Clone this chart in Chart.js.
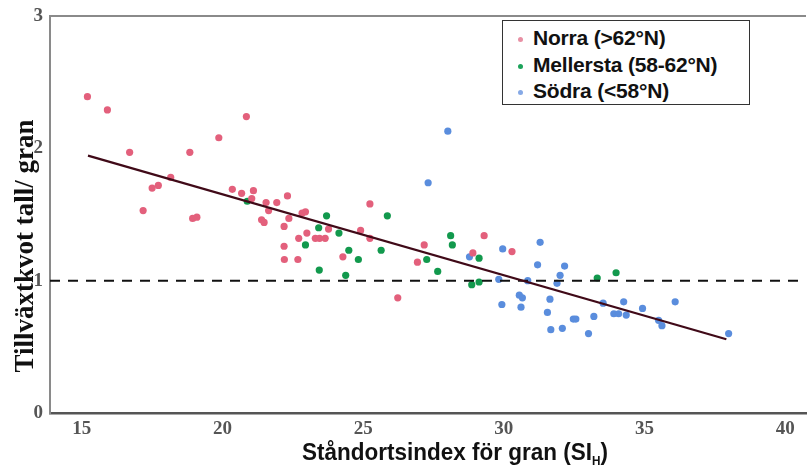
<!DOCTYPE html>
<html>
<head>
<meta charset="utf-8">
<script src="https://cdn.jsdelivr.net/npm/chart.js@4.4.1/dist/chart.umd.min.js"></script>
<style>
  html, body { margin: 0; padding: 0; background: #fff; }
  #wrap { position: relative; width: 810px; height: 468px; }
  #legend {
    position: absolute; left: 502px; top: 20px; width: 248px; height: 85px;
    border: 1.5px solid #333; background: #fff; box-sizing: border-box;
    font-family: 'Liberation Sans', Arial, sans-serif; font-weight: bold; font-size: 21px; color: #111;
    padding-top: 4px;
  }
  #legend .item { position: relative; height: 26.5px; line-height: 26px; padding-left: 30px; letter-spacing: -0.2px; }
  #legend .dot { position: absolute; left: 15px; top: 12px; width: 5px; height: 5px; border-radius: 50%; }
</style>
</head>
<body>
<div id="wrap">
  <canvas id="chart" width="810" height="468"></canvas>
  <div id="legend"></div>
</div>
<script>
// Series labels
const seriesLabels = ['Norra (>62°N)', 'Mellersta (58-62°N)', 'Södra (<58°N)'];

// Norra points
const norraX = [15.20, 15.91, 20.85, 19.87, 16.70, 18.84, 18.16, 17.72, 17.50, 20.35, 20.68, 17.18, 18.94, 19.09,
  21.10, 21.04, 21.55, 21.93, 21.64, 22.31, 21.39, 21.48, 22.36, 22.19, 22.83, 22.95, 23.77, 23.00, 22.71,
  23.30, 23.45, 23.65, 22.19, 22.20, 22.68, 24.28, 25.24, 24.91, 25.24, 27.17, 26.93, 26.23, 29.30, 28.90, 30.29];
const norraY = [2.39, 2.29, 2.24, 2.08, 1.97, 1.97, 1.78, 1.72, 1.70, 1.69, 1.66, 1.53, 1.47, 1.48,
  1.68, 1.62, 1.59, 1.59, 1.53, 1.64, 1.46, 1.44, 1.47, 1.41, 1.51, 1.52, 1.39, 1.36, 1.32,
  1.32, 1.32, 1.32, 1.26, 1.16, 1.16, 1.18, 1.58, 1.38, 1.32, 1.27, 1.14, 0.87, 1.34, 1.21, 1.22];

// Mellersta points
const mellerstaX = [20.88, 23.70, 23.42, 24.14, 22.95, 24.49, 24.83, 23.44, 24.38, 25.86, 25.64, 27.26, 27.65,
  28.11, 28.17, 29.12, 28.86, 29.12, 33.32, 33.99];
const mellerstaY = [1.60, 1.49, 1.40, 1.36, 1.27, 1.23, 1.16, 1.08, 1.04, 1.49, 1.23, 1.16, 1.07,
  1.34, 1.27, 1.17, 0.97, 0.99, 1.02, 1.06];

// Södra points
const sodraX = [28.01, 27.31, 28.78, 29.82, 29.96, 29.93, 31.29, 30.85, 31.20, 32.16, 32.00, 31.89, 30.55, 30.66,
  30.61, 31.64, 31.55, 33.53, 34.26, 33.91, 34.08, 34.35, 33.20, 32.47, 32.56, 31.67, 32.08, 33.01,
  34.93, 36.09, 35.50, 35.62, 37.99];
const sodraY = [2.13, 1.74, 1.18, 1.01, 1.24, 0.82, 1.29, 1.00, 1.12, 1.11, 1.04, 0.98, 0.89, 0.87,
  0.80, 0.86, 0.76, 0.83, 0.84, 0.75, 0.75, 0.74, 0.73, 0.71, 0.71, 0.63, 0.64, 0.60,
  0.79, 0.84, 0.70, 0.66, 0.60];

// Fitted line and reference level
const fitX = [15.22, 37.91];
const fitY = [1.945, 0.557];
const refLevel = 1;

// Axes
const xMin = 13.87, xMax = 40.74;
const xTicks = [15, 20, 25, 30, 35, 40];
const yTicks = [0, 1, 2, 3];

const seriesColors = ['#e3607c', '#12994d', '#5a8ddd'];
const legendColors = ['#e890a4', '#1ca35a', '#86a9e6'];

const toPts = (xs, ys) => xs.map((x, i) => ({ x: x, y: ys[i] }));

// legend
const legendEl = document.getElementById('legend');
seriesLabels.forEach((lab, i) => {
  const item = document.createElement('div');
  item.className = 'item';
  item.innerHTML = '<span class="dot" style="background:' + legendColors[i] + '"></span>' + lab;
  legendEl.appendChild(item);
});

const framePlugin = {
  id: 'frame',
  afterDraw(chart) {
    const ctx = chart.ctx;
    const a = chart.chartArea;
    ctx.save();
    // top frame line
    ctx.strokeStyle = '#8a8a8a';
    ctx.lineWidth = 2;
    ctx.beginPath();
    ctx.moveTo(a.left, a.top);
    ctx.lineTo(a.right, a.top);
    ctx.stroke();
    // y title
    ctx.fillStyle = '#111';
    ctx.font = 'bold 27px "Liberation Serif", "DejaVu Serif", serif';
    ctx.textAlign = 'center';
    ctx.textBaseline = 'middle';
    ctx.translate(26, 246);
    ctx.rotate(-Math.PI / 2);
    ctx.fillText('Tillväxtkvot tall/ gran', 0, 0);
    ctx.restore();

    // x title with subscript, squeezed to the reference width
    ctx.save();
    ctx.fillStyle = '#111';
    ctx.textBaseline = 'alphabetic';
    ctx.textAlign = 'left';
    const big = 'bold 23px "Liberation Sans", sans-serif';
    const small = 'bold 12px "Liberation Sans", sans-serif';
    const main = 'Ståndortsindex för gran (SI';
    ctx.font = big;
    const w1 = ctx.measureText(main).width;
    const w3 = ctx.measureText(')').width;
    ctx.font = small;
    const w2 = ctx.measureText('H').width;
    const total = w1 + w2 + w3;
    const target = 306;
    const sx = target / total;
    ctx.translate(455 - target / 2, 460);
    ctx.scale(sx, 1);
    ctx.font = big;
    ctx.fillText(main, 0, 0);
    ctx.font = small;
    ctx.fillText('H', w1, 5);
    ctx.font = big;
    ctx.fillText(')', w1 + w2, 0);
    ctx.restore();
  }
};

const tickFont = { family: '"Liberation Serif", "DejaVu Serif", serif', size: 19, weight: 'bold' };

new Chart(document.getElementById('chart').getContext('2d'), {
  type: 'scatter',
  data: {
    datasets: [
      {
        label: seriesLabels[0], data: toPts(norraX, norraY),
        backgroundColor: seriesColors[0], borderWidth: 0, pointRadius: 3.6, order: 3
      },
      {
        label: seriesLabels[1], data: toPts(mellerstaX, mellerstaY),
        backgroundColor: seriesColors[1], borderWidth: 0, pointRadius: 3.6, order: 3
      },
      {
        label: seriesLabels[2], data: toPts(sodraX, sodraY),
        backgroundColor: seriesColors[2], borderWidth: 0, pointRadius: 3.6, order: 3
      },
      {
        type: 'line', label: 'fit', data: toPts(fitX, fitY),
        borderColor: '#400a18', borderWidth: 2.2, pointRadius: 0, fill: false, order: 1
      },
      {
        type: 'line', label: 'ref', data: toPts([xMin, xMax], [refLevel, refLevel]),
        borderColor: '#111', borderWidth: 2, borderDash: [10, 8], pointRadius: 0, fill: false, order: 2
      }
    ]
  },
  options: {
    responsive: false,
    animation: false,
    layout: { padding: { top: 16, right: 0, left: 0, bottom: 0 } },
    plugins: { legend: { display: false }, tooltip: { enabled: false } },
    scales: {
      x: {
        type: 'linear', min: xMin, max: xMax,
        afterBuildTicks: s => { s.ticks = xTicks.map(v => ({ value: v })); },
        afterFit: s => { s.height = 55; },
        grid: { display: false, drawTicks: true, tickLength: 4 },
        border: { color: '#555', width: 2.5 },
        ticks: { color: '#555', font: tickFont, padding: 1 }
      },
      y: {
        min: 0, max: 3,
        afterBuildTicks: s => { s.ticks = yTicks.map(v => ({ value: v })); },
        afterFit: s => { s.width = 50; },
        grid: { display: false, drawTicks: true, tickLength: 6 },
        border: { color: '#8a8a8a', width: 2 },
        ticks: { color: '#555', font: tickFont, padding: 1 }
      }
    }
  },
  plugins: [framePlugin]
});
</script>
</body>
</html>
